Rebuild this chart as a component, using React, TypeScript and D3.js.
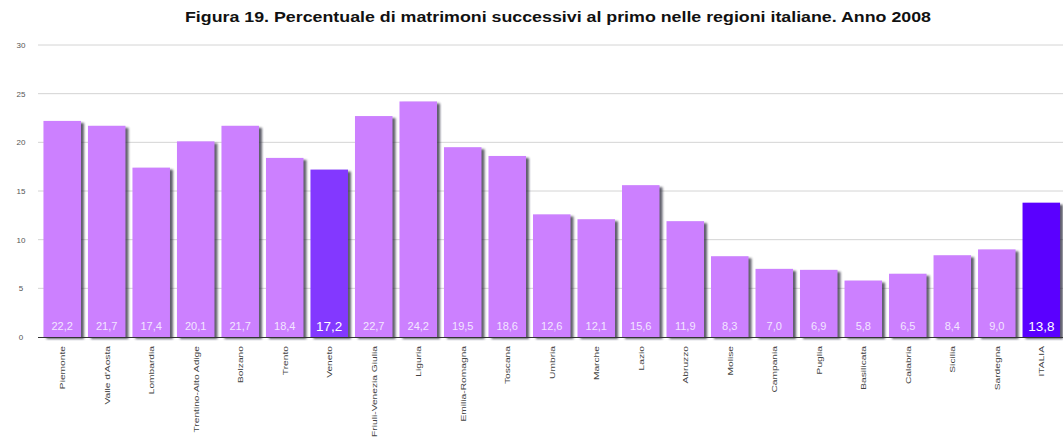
import React from "react";
import * as d3 from "d3";

const regions = [
  "Piemonte", "Valle d'Aosta", "Lombardia", "Trentino-Alto Adige", "Bolzano", "Trento",
  "Veneto", "Friuli-Venezia Giulia", "Liguria", "Emilia-Romagna", "Toscana", "Umbria",
  "Marche", "Lazio", "Abruzzo", "Molise", "Campania", "Puglia", "Basilicata", "Calabria",
  "Sicilia", "Sardegna", "ITALIA",
];
const values = [
  22.2, 21.7, 17.4, 20.1, 21.7, 18.4, 17.2, 22.7, 24.2, 19.5, 18.6, 12.6,
  12.1, 15.6, 11.9, 8.3, 7.0, 6.9, 5.8, 6.5, 8.4, 9.0, 13.8,
];
const yTicks = [0, 5, 10, 15, 20, 25, 30];
const highlight: Record<string, string> = { Veneto: "#8338ff", ITALIA: "#5a00ff" };
const baseColor = "#cc80ff";
const title = "Figura 19. Percentuale di matrimoni successivi al primo nelle regioni italiane. Anno 2008";

const W = 1063;
const H = 437;

export default function App() {
  const x = d3.scaleBand<string>().domain(regions).range([39, 1064.5]).paddingInner(0.157).paddingOuter(0.1);
  const y = d3.scaleLinear().domain([0, 30]).range([337, 45]);
  const bw = x.bandwidth();
  return (
    <svg width={W} height={H} style={{ position: "absolute", left: 0, top: 0, background: "#fff" }}
      fontFamily="Liberation Sans, Arial, sans-serif">
      <defs>
        <filter id="blur" x="-20%" y="-20%" width="140%" height="140%">
          <feGaussianBlur stdDeviation="1.2" />
        </filter>
      </defs>
      <text x={558} y={22} textAnchor="middle" fontWeight="bold" fontSize={14.5} fill="#111"
        textLength={746} lengthAdjust="spacingAndGlyphs">{title}</text>
      {yTicks.map((t) => (
        <g key={t}>
          {t > 0 && <line x1={38} x2={W} y1={y(t)} y2={y(t)} stroke="#d4d4d4" strokeWidth={1} />}
          <text x={21} y={y(t) + 3} textAnchor="middle" fontSize={8} fill="#555">{t}</text>
        </g>
      ))}
      {regions.map((r, i) => (
        <rect key={"s" + r} x={(x(r) as number) + 3} y={y(values[i]) + 2} width={bw} height={337 - y(values[i])}
          fill="#2a2a3a" opacity={0.75} filter="url(#blur)" />
      ))}
      <line x1={38} x2={W} y1={337.5} y2={337.5} stroke="#333" strokeWidth={1.2} />
      {regions.map((r, i) => (
        <rect key={r} x={x(r)} y={y(values[i])} width={bw} height={337 - y(values[i])}
          fill={highlight[r] || baseColor} />
      ))}
      {regions.map((r, i) => {
        const big = !!highlight[r];
        return (
          <text key={"v" + r} x={(x(r) as number) + bw / 2} y={big ? 330.5 : 330} textAnchor="middle"
            fontSize={big ? 13.5 : 11} fill={big ? "#ffffff" : "#f3e6ff"}>
            {values[i].toFixed(1).replace(".", ",")}
          </text>
        );
      })}
      {regions.map((r) => {
        const cx = (x(r) as number) + bw / 2 + 3;
        return (
          <text key={"l" + r} transform={`translate(${cx},${346}) rotate(-90) scale(1.28,1)`} textAnchor="end"
            fontSize={8} fill="#444">{r}</text>
        );
      })}
    </svg>
  );
}
